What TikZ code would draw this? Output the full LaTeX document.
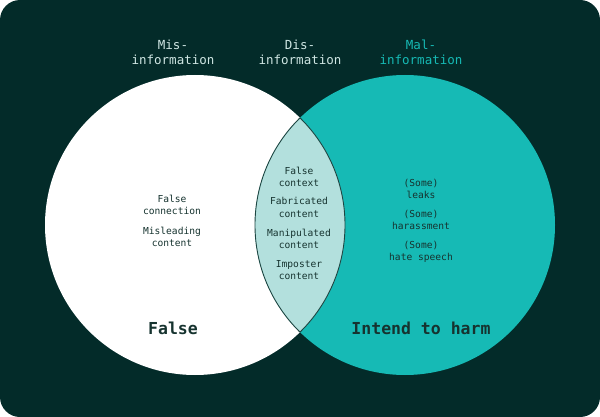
\documentclass[tikz,border=0pt]{standalone}
\usepackage{fontspec}
\setmonofont{DejaVu Sans Mono}
\usepackage{xcolor}
\definecolor{mBgDark}{HTML}{032B29}
\definecolor{mTeal}{HTML}{16BAB5}
\definecolor{mLens}{HTML}{B3E0DD}
\definecolor{mPaleText}{HTML}{CFE6E3}
\definecolor{mInkText}{HTML}{16332F}
\definecolor{mLensLine}{HTML}{1E4642}
\usepackage{tikz}
\usetikzlibrary{positioning}

\begin{document}
\begin{tikzpicture}[x=1pt, y=-1pt, font=\ttfamily]
\tikzset{
  headlbl/.style={align=center, font=\ttfamily\fontsize{12.5}{15}\selectfont, inner sep=0pt},
  itemlbl/.style={align=center, font=\ttfamily\fontsize{9.6}{12.2}\selectfont, text=mInkText, inner sep=0pt},
  biglbl/.style={font=\ttfamily\bfseries\fontsize{16.5}{18}\selectfont, text=mInkText, inner sep=0pt}
}
\useasboundingbox (0,0) rectangle (600,417);
\fill[mBgDark, rounded corners=20pt] (0,0) rectangle (600,417);
% the two sets
\fill[white] (195,225) circle (150pt);
\fill[mTeal] (405,225) circle (150pt);
\begin{scope}
\clip (195,225) circle (150pt);
\fill[mLens] (405,225) circle (150pt);
\draw[mLensLine, line width=0.9pt] (405,225) circle (150pt);
\end{scope}
\begin{scope}
\clip (405,225) circle (150pt);
\draw[mLensLine, line width=0.9pt] (195,225) circle (150pt);
\end{scope}
% headings
\node[headlbl, text=mPaleText] (misHead) at (173,52) {Mis-\\information};
\node[headlbl, text=mPaleText] (disHead) at (300,52) {Dis-\\information};
\node[headlbl, text=mTeal] (malHead) at (421,52) {Mal-\\information};
% misinformation
\node[itemlbl] (falseConn) at (172,204.5) {False\\connection};
\node[itemlbl] (misleading) at (172,236.5) {Misleading\\content};
% disinformation
\node[itemlbl] (falseCtx) at (299,176.5) {False\\context};
\node[itemlbl] (fabricated) at (299,207.5) {Fabricated\\content};
\node[itemlbl] (manipulated) at (299,238.5) {Manipulated\\content};
\node[itemlbl] (imposter) at (299,270) {Imposter\\content};
% malinformation
\node[itemlbl] (leaks) at (421,189) {(Some)\\leaks};
\node[itemlbl] (harassment) at (421,220) {(Some)\\harassment};
\node[itemlbl] (hateSpeech) at (421,251.5) {(Some)\\hate speech};
% set names
\node[biglbl] (falseLbl) at (173,328) {False};
\node[biglbl] (harmLbl) at (421,328) {Intend to harm};
\end{tikzpicture}
\end{document}
